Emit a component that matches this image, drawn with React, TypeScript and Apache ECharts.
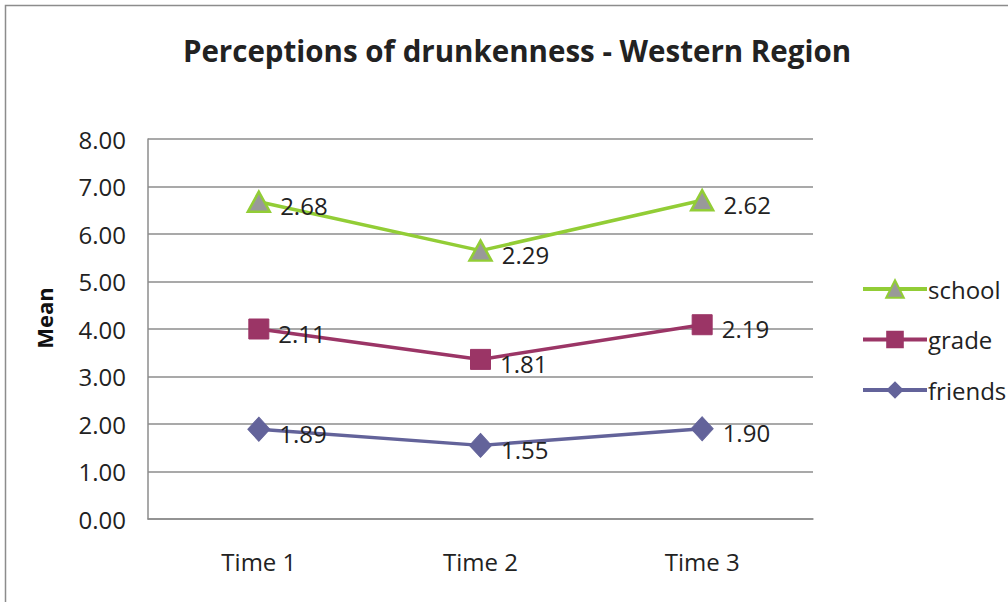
import React, { useEffect, useRef } from "react";
import * as echarts from "echarts";

const categories = ["Time 1", "Time 2", "Time 3"];
const friends = [1.89, 1.55, 1.9];
const grade = [2.11, 1.81, 2.19];
const school = [2.68, 2.29, 2.62];
const yTicks = [0, 1, 2, 3, 4, 5, 6, 7, 8];

const FONT = "'Open Sans', sans-serif";

export default function App() {
  const ref = useRef<HTMLDivElement>(null);
  useEffect(() => {
    if (!ref.current) return;
    const chart = echarts.init(ref.current, null, { renderer: "svg" });
    const label = {
      show: true,
      position: "right" as const,
      distance: 9,
      offset: [0, 4],
      color: "#222",
      fontSize: 24,
      fontFamily: FONT,
      formatter: (p: any) => Number(p.value).toFixed(2),
    };
    chart.setOption({
      animation: false,
      backgroundColor: "#fff",
      textStyle: { fontFamily: FONT },
      title: {
        text: "Perceptions of drunkenness - Western Region",
        left: 512,
        textAlign: "center",
        top: 30,
        textStyle: { fontSize: 29.5, fontWeight: "bold", color: "#222", fontFamily: FONT },
      },
      graphic: [
        {
          type: "rect",
          shape: { x: 5.5, y: 5.5, width: 1010, height: 610 },
          style: { fill: "none", stroke: "#8c8c8c", lineWidth: 1.5 },
          silent: true,
        },
        {
          type: "text",
          x: 44,
          y: 318,
          rotation: Math.PI / 2,
          style: {
            text: "Mean",
            fontSize: 22,
            fontWeight: "bold",
            fill: "#111",
            fontFamily: FONT,
            align: "center",
            verticalAlign: "middle",
          },
        },
      ],
      legend: {
        orient: "vertical",
        left: 856,
        top: 272,
        itemGap: 26.5,
        itemWidth: 64,
        itemHeight: 22,
        data: ["school", "grade", "friends"],
        lineStyle: { width: 4 },
        textStyle: { fontSize: 24, color: "#222", fontFamily: FONT, padding: [0, 0, 0, -4] },
      },
      grid: { left: 148, right: 195, top: 139, bottom: 83 },
      xAxis: {
        type: "category",
        data: categories,
        boundaryGap: true,
        axisLine: { lineStyle: { color: "#8c8c8c", width: 1.5 } },
        axisTick: { show: false },
        axisLabel: { fontSize: 24, color: "#222", margin: 30, fontFamily: FONT },
      },
      yAxis: {
        type: "value",
        min: yTicks[0],
        max: yTicks[yTicks.length - 1],
        interval: 1,
        axisLine: { show: true, lineStyle: { color: "#8c8c8c", width: 1.5 } },
        axisTick: { show: false },
        splitLine: { lineStyle: { color: "#8c8c8c", width: 1.5 } },
        axisLabel: {
          fontSize: 24,
          color: "#222",
          margin: 22,
          fontFamily: FONT,
          formatter: (v: number) => v.toFixed(2),
        },
      },
      series: [
        {
          name: "friends",
          type: "line",
          stack: "total",
          data: friends,
          symbol: "diamond",
          symbolSize: [22, 24],
          lineStyle: { color: "#63639a", width: 3.5 },
          itemStyle: { color: "#63639a", borderColor: "#63639a" },
          label,
        },
        {
          name: "grade",
          type: "line",
          stack: "total",
          data: grade,
          symbol: "rect",
          symbolSize: 20,
          lineStyle: { color: "#9b3566", width: 3.5 },
          itemStyle: { color: "#9b3566", borderColor: "#9b3566" },
          label,
        },
        {
          name: "school",
          type: "line",
          stack: "total",
          data: school,
          symbol: "triangle",
          symbolSize: [22, 20],
          lineStyle: { color: "#92cd36", width: 3.5 },
          itemStyle: { color: "#999999", borderColor: "#92cd36", borderWidth: 2.5 },
          label,
        },
      ],
    });
    return () => chart.dispose();
  }, []);
  return (
    <div
      ref={ref}
      style={{ position: "fixed", left: 0, top: 0, width: 1008, height: 602 }}
    />
  );
}
